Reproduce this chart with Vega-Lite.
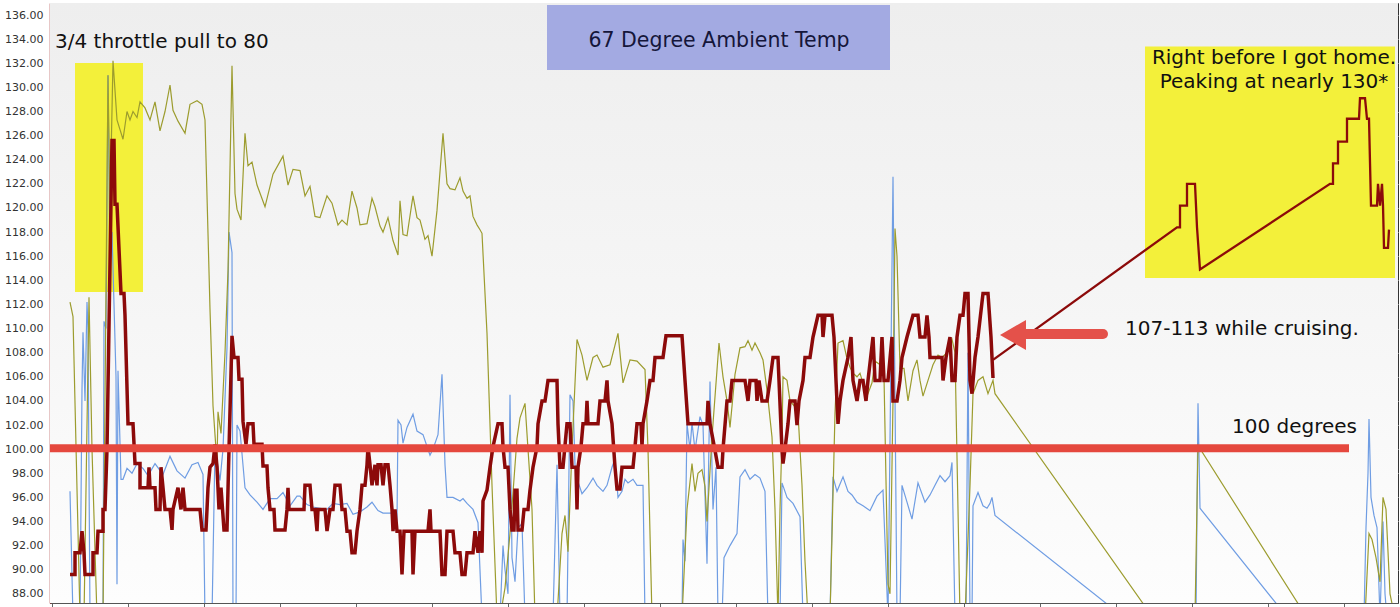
{
  "$schema": "https://vega.github.io/schema/vega-lite/v6.json",
  "width": 1348,
  "height": 600,
  "autosize": {"type": "none"},
  "padding": {"left": 50, "top": 3, "right": 2, "bottom": 4},
  "background": "white",
  "config": {
    "view": {"stroke": "#333333", "strokeWidth": 1},
    "font": "DejaVu Sans"
  },
  "datasets": {
    "red": [{"x":70,"v":89.6},{"x":75,"v":89.6},{"x":75,"v":91.4},{"x":80,"v":91.4},{"x":82,"v":93.2},{"x":84,"v":91.4},{"x":85,"v":89.6},{"x":93,"v":89.6},{"x":93,"v":91.4},{"x":97,"v":91.4},{"x":98,"v":93.2},{"x":103,"v":93.2},{"x":103,"v":95},{"x":105,"v":95},{"x":107,"v":100},{"x":112,"v":125.6},{"x":114,"v":125.6},{"x":115,"v":120.3},{"x":117,"v":120.3},{"x":121,"v":112.9},{"x":124,"v":112.9},{"x":125,"v":111.1},{"x":128,"v":102.1},{"x":133,"v":102.1},{"x":135,"v":98.8},{"x":140,"v":98.8},{"x":140,"v":96.8},{"x":148,"v":96.8},{"x":149,"v":98.5},{"x":150,"v":96.8},{"x":155,"v":96.8},{"x":156,"v":95},{"x":160,"v":95},{"x":161,"v":98.5},{"x":163,"v":96.8},{"x":165,"v":95},{"x":170,"v":95},{"x":172,"v":93.3},{"x":173,"v":95},{"x":178,"v":96.8},{"x":181,"v":95},{"x":183,"v":96.8},{"x":185,"v":95},{"x":200,"v":95},{"x":202,"v":93.3},{"x":206,"v":93.3},{"x":207,"v":95},{"x":208,"v":96.8},{"x":210,"v":98.5},{"x":213,"v":98.8},{"x":215,"v":100.4},{"x":217,"v":98.5},{"x":219,"v":95},{"x":221,"v":96.8},{"x":224,"v":93.3},{"x":227,"v":93.3},{"x":229,"v":100},{"x":232,"v":109.4},{"x":234,"v":107.6},{"x":238,"v":107.6},{"x":239,"v":105.8},{"x":242,"v":105.8},{"x":243,"v":102.3},{"x":246,"v":100.4},{"x":248,"v":102.1},{"x":253,"v":102.1},{"x":254,"v":100.4},{"x":262,"v":100.4},{"x":263,"v":98.6},{"x":267,"v":98.6},{"x":268,"v":96.8},{"x":270,"v":95},{"x":274,"v":95},{"x":275,"v":93.3},{"x":285,"v":93.3},{"x":287,"v":95},{"x":288,"v":96.8},{"x":289,"v":95},{"x":304,"v":95},{"x":305,"v":97},{"x":310,"v":97},{"x":312,"v":95},{"x":315,"v":95},{"x":317,"v":93.2},{"x":318,"v":95},{"x":325,"v":95},{"x":327,"v":93.2},{"x":330,"v":95},{"x":333,"v":95},{"x":335,"v":97},{"x":340,"v":97},{"x":342,"v":95},{"x":345,"v":95},{"x":347,"v":93.2},{"x":350,"v":93.2},{"x":352,"v":91.4},{"x":355,"v":91.4},{"x":357,"v":93.2},{"x":360,"v":95},{"x":362,"v":97},{"x":365,"v":97},{"x":367,"v":98.7},{"x":368,"v":100.2},{"x":370,"v":98.7},{"x":372,"v":97},{"x":375,"v":98.7},{"x":377,"v":97},{"x":378,"v":98.7},{"x":381,"v":98.7},{"x":383,"v":97},{"x":385,"v":98.7},{"x":388,"v":98.7},{"x":390,"v":97},{"x":392,"v":95},{"x":393,"v":93.2},{"x":395,"v":95},{"x":397,"v":93.2},{"x":400,"v":93.2},{"x":402,"v":89.6},{"x":404,"v":93.2},{"x":412,"v":93.2},{"x":413,"v":89.6},{"x":415,"v":93.2},{"x":428,"v":93.2},{"x":430,"v":95},{"x":431,"v":93.2},{"x":440,"v":93.2},{"x":442,"v":89.6},{"x":445,"v":89.6},{"x":447,"v":93.2},{"x":453,"v":93.2},{"x":455,"v":91.4},{"x":460,"v":91.4},{"x":462,"v":89.6},{"x":465,"v":89.6},{"x":467,"v":91.4},{"x":473,"v":91.4},{"x":475,"v":93.2},{"x":478,"v":91.4},{"x":480,"v":93.2},{"x":482,"v":91.4},{"x":483,"v":95.7},{"x":487,"v":96.6},{"x":490,"v":98.5},{"x":493,"v":100.2},{"x":498,"v":102.1},{"x":502,"v":102.1},{"x":503,"v":100.2},{"x":505,"v":98.5},{"x":508,"v":98.5},{"x":510,"v":95},{"x":512,"v":93.3},{"x":514,"v":93.3},{"x":515,"v":96.6},{"x":517,"v":96.6},{"x":518,"v":93.3},{"x":522,"v":93.3},{"x":524,"v":95},{"x":528,"v":95},{"x":530,"v":96.6},{"x":533,"v":98.5},{"x":537,"v":100.2},{"x":538,"v":102.1},{"x":542,"v":104},{"x":545,"v":104},{"x":548,"v":105.7},{"x":557,"v":105.7},{"x":558,"v":102.1},{"x":560,"v":98.5},{"x":563,"v":98.5},{"x":567,"v":102.1},{"x":570,"v":102.1},{"x":572,"v":98.5},{"x":576,"v":98.5},{"x":577,"v":95},{"x":578,"v":98.5},{"x":581,"v":100.2},{"x":583,"v":102.1},{"x":586,"v":102.1},{"x":587,"v":104},{"x":588,"v":102.1},{"x":598,"v":102.1},{"x":600,"v":104},{"x":605,"v":104},{"x":607,"v":105.7},{"x":608,"v":104},{"x":612,"v":102.1},{"x":615,"v":98.5},{"x":617,"v":96.7},{"x":620,"v":96.7},{"x":622,"v":98.5},{"x":633,"v":98.5},{"x":635,"v":100.2},{"x":637,"v":102.1},{"x":641,"v":102.1},{"x":642,"v":100.2},{"x":643,"v":102.1},{"x":647,"v":104},{"x":650,"v":105.7},{"x":653,"v":105.7},{"x":655,"v":107.6},{"x":663,"v":107.6},{"x":666,"v":109.4},{"x":682,"v":109.4},{"x":685,"v":105.7},{"x":688,"v":102.1},{"x":707,"v":102.1},{"x":708,"v":104},{"x":710,"v":102.1},{"x":715,"v":99.9},{"x":718,"v":98.5},{"x":722,"v":98.5},{"x":723,"v":100},{"x":727,"v":104},{"x":730,"v":104},{"x":732,"v":105.7},{"x":745,"v":105.7},{"x":748,"v":104},{"x":750,"v":105.7},{"x":756,"v":105.7},{"x":757,"v":104},{"x":759,"v":105.7},{"x":762,"v":104},{"x":767,"v":104},{"x":770,"v":105.7},{"x":773,"v":107.6},{"x":778,"v":107.6},{"x":779,"v":105.7},{"x":782,"v":99.9},{"x":783,"v":98.8},{"x":785,"v":100},{"x":788,"v":102.1},{"x":790,"v":104},{"x":795,"v":104},{"x":797,"v":102},{"x":799,"v":104},{"x":803,"v":105.7},{"x":805,"v":107.6},{"x":810,"v":107.6},{"x":813,"v":109.3},{"x":818,"v":111.1},{"x":822,"v":111.1},{"x":823,"v":109.3},{"x":825,"v":111.1},{"x":832,"v":111.1},{"x":834,"v":109.3},{"x":838,"v":102.1},{"x":840,"v":104},{"x":843,"v":105.7},{"x":848,"v":107.6},{"x":851,"v":109.3},{"x":853,"v":105.7},{"x":857,"v":104},{"x":860,"v":105.7},{"x":863,"v":105.7},{"x":866,"v":104},{"x":868,"v":105.7},{"x":873,"v":109.3},{"x":875,"v":105.7},{"x":880,"v":105.7},{"x":882,"v":109.3},{"x":884,"v":105.7},{"x":888,"v":105.7},{"x":892,"v":109.3},{"x":893,"v":104},{"x":897,"v":104},{"x":900,"v":105.7},{"x":902,"v":107.6},{"x":907,"v":109.3},{"x":913,"v":111.1},{"x":918,"v":111.1},{"x":920,"v":109.3},{"x":925,"v":109.3},{"x":927,"v":111.1},{"x":929,"v":109.3},{"x":930,"v":107.6},{"x":942,"v":107.6},{"x":943,"v":105.7},{"x":946,"v":107.6},{"x":950,"v":109.3},{"x":952,"v":105.7},{"x":955,"v":105.7},{"x":957,"v":109.3},{"x":960,"v":111.1},{"x":963,"v":111.1},{"x":965,"v":112.9},{"x":968,"v":112.9},{"x":970,"v":105.7},{"x":972,"v":104.6},{"x":975,"v":107.6},{"x":978,"v":109.3},{"x":983,"v":112.9},{"x":988,"v":112.9},{"x":991,"v":109.3},{"x":993,"v":105.9}],
    "inset": [{"x":993,"v":107.4},{"x":1177,"v":118.4},{"x":1180,"v":118.4},{"x":1180,"v":120.2},{"x":1187,"v":120.2},{"x":1187,"v":122},{"x":1195,"v":122},{"x":1197,"v":118.4},{"x":1200,"v":114.9},{"x":1330,"v":122},{"x":1333,"v":122},{"x":1333,"v":123.7},{"x":1338,"v":123.7},{"x":1338,"v":125.5},{"x":1347,"v":125.5},{"x":1347,"v":127.4},{"x":1359,"v":127.4},{"x":1360,"v":129.1},{"x":1365,"v":129.1},{"x":1367,"v":127.4},{"x":1369,"v":127.4},{"x":1371,"v":120.2},{"x":1377,"v":120.2},{"x":1378,"v":122},{"x":1380,"v":120.2},{"x":1382,"v":122},{"x":1383,"v":120.2},{"x":1384,"v":116.7},{"x":1388,"v":116.7},{"x":1389,"v":118.2}],
    "olive": [{"x":70,"v":112.2},{"x":73,"v":111},{"x":80,"v":86},{"x":84,"v":86},{"x":89,"v":112.6},{"x":92,"v":100},{"x":97,"v":86},{"x":103,"v":86},{"x":108,"v":131},{"x":110,"v":120},{"x":113,"v":132.2},{"x":117,"v":127.3},{"x":120,"v":126.5},{"x":123,"v":125.7},{"x":127,"v":128},{"x":130,"v":127.3},{"x":133,"v":128},{"x":137,"v":127.5},{"x":140,"v":128.8},{"x":145,"v":128.3},{"x":150,"v":127.3},{"x":155,"v":128.8},{"x":160,"v":126.4},{"x":165,"v":128},{"x":170,"v":130.2},{"x":173,"v":128.1},{"x":178,"v":127.2},{"x":185,"v":126.2},{"x":190,"v":128.6},{"x":197,"v":128.9},{"x":202,"v":128.6},{"x":205,"v":127.3},{"x":210,"v":111.6},{"x":213,"v":103.6},{"x":217,"v":98.8},{"x":218,"v":103.1},{"x":221,"v":101.3},{"x":225,"v":108},{"x":228,"v":114.8},{"x":232,"v":131.8},{"x":235,"v":121.2},{"x":237,"v":119.9},{"x":241,"v":119},{"x":245,"v":126.2},{"x":248,"v":123.5},{"x":252,"v":123.8},{"x":257,"v":121.9},{"x":265,"v":120.1},{"x":273,"v":122.8},{"x":283,"v":124.3},{"x":288,"v":121.9},{"x":293,"v":123.2},{"x":300,"v":123.1},{"x":305,"v":121},{"x":310,"v":121.8},{"x":315,"v":119.3},{"x":320,"v":119.2},{"x":327,"v":121},{"x":332,"v":120.4},{"x":338,"v":118.6},{"x":342,"v":119},{"x":347,"v":118.6},{"x":352,"v":121.4},{"x":357,"v":120},{"x":360,"v":118.6},{"x":367,"v":118.7},{"x":372,"v":120.8},{"x":375,"v":120.1},{"x":380,"v":118.5},{"x":383,"v":118},{"x":388,"v":119.2},{"x":393,"v":117.3},{"x":398,"v":116.1},{"x":400,"v":120.6},{"x":403,"v":117.8},{"x":407,"v":117.7},{"x":413,"v":121},{"x":417,"v":119.2},{"x":420,"v":119},{"x":425,"v":117.4},{"x":428,"v":117.7},{"x":432,"v":116},{"x":437,"v":119.8},{"x":443,"v":126.2},{"x":447,"v":122},{"x":450,"v":121.6},{"x":455,"v":121.5},{"x":460,"v":122.5},{"x":463,"v":121.4},{"x":467,"v":120.8},{"x":470,"v":121},{"x":473,"v":119.3},{"x":477,"v":118.6},{"x":480,"v":118.2},{"x":482,"v":117.9},{"x":487,"v":109.6},{"x":492,"v":97},{"x":497,"v":86},{"x":500,"v":86},{"x":505,"v":88.5},{"x":510,"v":93},{"x":517,"v":100.9},{"x":520,"v":102.6},{"x":525,"v":103.8},{"x":528,"v":100},{"x":532,"v":95},{"x":535,"v":86},{"x":557,"v":86},{"x":562,"v":93},{"x":565,"v":94.5},{"x":568,"v":91.5},{"x":572,"v":100},{"x":577,"v":109.1},{"x":582,"v":107.8},{"x":587,"v":105.7},{"x":593,"v":107.6},{"x":597,"v":107.8},{"x":603,"v":106.8},{"x":610,"v":107},{"x":618,"v":109.6},{"x":623,"v":105.5},{"x":630,"v":107.4},{"x":637,"v":107.3},{"x":645,"v":106.6},{"x":648,"v":100},{"x":652,"v":86},{"x":682,"v":86},{"x":687,"v":95},{"x":692,"v":98.8},{"x":695,"v":96.5},{"x":698,"v":98},{"x":702,"v":98.3},{"x":705,"v":96.9},{"x":707,"v":94},{"x":712,"v":101},{"x":719,"v":108.8},{"x":723,"v":106},{"x":727,"v":104},{"x":730,"v":101.8},{"x":735,"v":106.2},{"x":740,"v":108.4},{"x":745,"v":108.5},{"x":748,"v":109},{"x":752,"v":108.2},{"x":755,"v":108.8},{"x":760,"v":108},{"x":763,"v":107.4},{"x":767,"v":104.9},{"x":772,"v":101},{"x":775,"v":95},{"x":778,"v":86},{"x":780,"v":95},{"x":782,"v":101},{"x":783,"v":106},{"x":787,"v":105.7},{"x":790,"v":104},{"x":795,"v":103.5},{"x":798,"v":103},{"x":802,"v":97},{"x":805,"v":90.7},{"x":808,"v":86},{"x":830,"v":86},{"x":835,"v":103},{"x":838,"v":108.8},{"x":843,"v":109},{"x":847,"v":107.5},{"x":850,"v":106.8},{"x":853,"v":106.3},{"x":857,"v":106},{"x":860,"v":106.3},{"x":865,"v":104.9},{"x":868,"v":104.6},{"x":872,"v":105.5},{"x":875,"v":107.3},{"x":880,"v":107},{"x":884,"v":106},{"x":888,"v":88.8},{"x":890,"v":88},{"x":893,"v":104},{"x":895,"v":118.3},{"x":897,"v":116},{"x":900,"v":106.7},{"x":904,"v":106.7},{"x":908,"v":104},{"x":913,"v":106.5},{"x":917,"v":107.4},{"x":920,"v":105.7},{"x":923,"v":104.4},{"x":928,"v":105.7},{"x":933,"v":107},{"x":938,"v":107.8},{"x":942,"v":107.6},{"x":947,"v":108},{"x":952,"v":109.1},{"x":955,"v":108},{"x":958,"v":95},{"x":960,"v":86},{"x":965,"v":86},{"x":970,"v":97},{"x":973,"v":104.6},{"x":978,"v":105.7},{"x":983,"v":106},{"x":988,"v":104.6},{"x":993,"v":105.7},{"x":995,"v":104.6},{"x":1143,"v":87.2},{"x":1150,"v":86.4},{"x":1195,"v":86},{"x":1198,"v":100.3},{"x":1298,"v":87.2},{"x":1300,"v":86.5},{"x":1365,"v":86},{"x":1369,"v":93},{"x":1372,"v":92.5},{"x":1376,"v":91},{"x":1380,"v":89},{"x":1383,"v":96},{"x":1386,"v":95},{"x":1390,"v":88},{"x":1395,"v":86}],
    "blue": [{"x":70,"v":96.5},{"x":73,"v":86},{"x":80,"v":86},{"x":82,"v":105},{"x":83,"v":109.7},{"x":85,"v":104},{"x":87,"v":112.2},{"x":88,"v":110},{"x":90,"v":86},{"x":103,"v":86},{"x":104,"v":110.6},{"x":106,"v":110},{"x":108,"v":131},{"x":110,"v":115},{"x":112,"v":118},{"x":114,"v":112},{"x":116,"v":106},{"x":117,"v":88.8},{"x":118,"v":106.5},{"x":121,"v":97.5},{"x":123,"v":97.5},{"x":127,"v":98.4},{"x":132,"v":98},{"x":137,"v":98.8},{"x":143,"v":98.4},{"x":148,"v":97.8},{"x":155,"v":98.8},{"x":163,"v":97.9},{"x":170,"v":99.4},{"x":177,"v":98.2},{"x":185,"v":97.6},{"x":192,"v":98.7},{"x":198,"v":98.9},{"x":203,"v":97.9},{"x":205,"v":86},{"x":212,"v":86},{"x":215,"v":100.2},{"x":220,"v":97.4},{"x":223,"v":100},{"x":227,"v":108.4},{"x":229,"v":118},{"x":232,"v":116.3},{"x":233,"v":86},{"x":236,"v":86},{"x":237,"v":102},{"x":240,"v":101.5},{"x":245,"v":96.8},{"x":250,"v":96.2},{"x":257,"v":95.6},{"x":263,"v":95},{"x":270,"v":95.9},{"x":277,"v":95.9},{"x":283,"v":96.4},{"x":290,"v":95.3},{"x":297,"v":96.1},{"x":300,"v":96.1},{"x":307,"v":95.4},{"x":313,"v":95.2},{"x":320,"v":95.1},{"x":327,"v":95},{"x":333,"v":95.5},{"x":340,"v":95.4},{"x":347,"v":95.5},{"x":353,"v":94.6},{"x":360,"v":94.8},{"x":367,"v":95.2},{"x":372,"v":95.6},{"x":378,"v":94.9},{"x":383,"v":94.7},{"x":393,"v":94.7},{"x":397,"v":94.1},{"x":398,"v":102.4},{"x":401,"v":102},{"x":403,"v":100.5},{"x":407,"v":101.8},{"x":413,"v":102.9},{"x":417,"v":101.5},{"x":423,"v":101.2},{"x":430,"v":99.5},{"x":433,"v":100},{"x":438,"v":101.2},{"x":442,"v":106.2},{"x":445,"v":98.7},{"x":447,"v":96},{"x":453,"v":96},{"x":460,"v":95.7},{"x":463,"v":95.9},{"x":467,"v":95.5},{"x":473,"v":95},{"x":478,"v":93.9},{"x":482,"v":86},{"x":500,"v":86},{"x":503,"v":92},{"x":505,"v":90},{"x":508,"v":88},{"x":510,"v":104.5},{"x":512,"v":91},{"x":515,"v":89},{"x":518,"v":93.5},{"x":522,"v":93.8},{"x":525,"v":86},{"x":553,"v":86},{"x":557,"v":98.7},{"x":560,"v":86},{"x":567,"v":86},{"x":570,"v":104.5},{"x":573,"v":104},{"x":575,"v":98.7},{"x":578,"v":97.3},{"x":582,"v":96.3},{"x":587,"v":96.8},{"x":593,"v":97.6},{"x":597,"v":97},{"x":603,"v":96.5},{"x":607,"v":97},{"x":612,"v":98.5},{"x":615,"v":99.2},{"x":618,"v":96},{"x":622,"v":96.5},{"x":625,"v":97.5},{"x":628,"v":97.2},{"x":633,"v":97.5},{"x":637,"v":97},{"x":643,"v":97},{"x":645,"v":86},{"x":682,"v":86},{"x":683,"v":92.5},{"x":685,"v":90.7},{"x":687,"v":102.1},{"x":690,"v":100},{"x":692,"v":102.2},{"x":695,"v":99.9},{"x":700,"v":102.7},{"x":703,"v":102},{"x":707,"v":90.5},{"x":710,"v":105.6},{"x":713,"v":95},{"x":716,"v":98.5},{"x":718,"v":86},{"x":722,"v":86},{"x":724,"v":91},{"x":730,"v":92},{"x":737,"v":93},{"x":740,"v":97.7},{"x":745,"v":98.3},{"x":750,"v":97.5},{"x":755,"v":97.9},{"x":760,"v":97.6},{"x":765,"v":96.5},{"x":768,"v":86},{"x":780,"v":86},{"x":782,"v":97.2},{"x":787,"v":96},{"x":793,"v":95.5},{"x":800,"v":94.4},{"x":803,"v":86},{"x":830,"v":86},{"x":833,"v":97.7},{"x":837,"v":96.5},{"x":843,"v":97.7},{"x":848,"v":96.5},{"x":852,"v":96.2},{"x":857,"v":95.6},{"x":863,"v":95.3},{"x":870,"v":94.9},{"x":877,"v":96.1},{"x":883,"v":96.6},{"x":888,"v":86},{"x":893,"v":122.6},{"x":897,"v":86},{"x":900,"v":86},{"x":902,"v":97},{"x":907,"v":95.6},{"x":912,"v":94.2},{"x":918,"v":97.2},{"x":925,"v":95.6},{"x":930,"v":96.2},{"x":935,"v":97},{"x":940,"v":97.8},{"x":945,"v":97.3},{"x":950,"v":97.8},{"x":952,"v":98.9},{"x":955,"v":86},{"x":966,"v":86},{"x":968,"v":108},{"x":970,"v":86},{"x":972,"v":86},{"x":973,"v":95.3},{"x":978,"v":96.4},{"x":983,"v":95.3},{"x":987,"v":95.1},{"x":990,"v":95.5},{"x":992,"v":96},{"x":995,"v":94.5},{"x":1117,"v":86.5},{"x":1120,"v":86},{"x":1196,"v":86},{"x":1198,"v":103.8},{"x":1200,"v":95.1},{"x":1283,"v":86.5},{"x":1285,"v":86},{"x":1364,"v":86},{"x":1366,"v":93.5},{"x":1368,"v":98},{"x":1369,"v":102.5},{"x":1371,"v":96},{"x":1374,"v":94.5},{"x":1377,"v":93.5},{"x":1380,"v":86},{"x":1383,"v":94},{"x":1385,"v":88},{"x":1387,"v":86},{"x":1395,"v":86}]
  },
  "encoding": {
    "x": {"field": "x", "type": "quantitative", "scale": {"domain": [50, 1398], "nice": false, "zero": false},
      "axis": {"title": null, "labels": false, "values": [52,128,204,280,356,432,508,584,660,736,812,888,964,1040,1116,1192,1268,1344], "tickSize": 5, "tickColor": "#666", "domainColor": "#555",
        "grid": true, "gridColor": "#dcdcdc", "gridWidth": 1, "gridOpacity": {"condition": {"test": "(datum.value - 128) % 152 == 0", "value": 1}, "value": 0}}},
    "y": {"field": "v", "type": "quantitative", "scale": {"domain": [87.24, 137], "nice": false, "zero": false},
      "axis": {"title": null, "values": [88,90,92,94,96,98,100,102,104,106,108,110,112,114,116,118,120,122,124,126,128,130,132,134,136], "format": ".2f", "labelFontSize": 11, "labelColor": "#333", "labelFont": "DejaVu Sans", "ticks": false, "labelPadding": 7, "domainColor": "#a02020", "domainWidth": 1.5, "grid": true, "gridColor": "#d2d2d2", "gridDash": [3, 2]}}
  },
  "layer": [
    {
      "mark": {"type": "rect", "color": {"gradient": "linear", "x1": 0, "y1": 0, "x2": 0, "y2": 1, "stops": [{"offset": 0, "color": "#eeeeee"}, {"offset": 1, "color": "#fdfdfd"}]}},
      "data": {"values": [{"x": 50, "x2": 1398, "v": 137, "v2": 87.24}]},
      "encoding": {"x2": {"field": "x2"}, "y2": {"field": "v2"}}
    },
    {
      "mark": {"type": "rect", "color": "#f3f03a"},
      "data": {"values": [{"x": 75, "x2": 143, "v": 132.02, "v2": 113.03}, {"x": 1145, "x2": 1395, "v": 133.39, "v2": 114.2}]},
      "encoding": {"x2": {"field": "x2"}, "y2": {"field": "v2"}}
    },
    {
      "mark": {"type": "rect", "color": "#a3aae2"},
      "data": {"values": [{"x": 547, "x2": 890, "v": 136.83, "v2": 131.44}]},
      "encoding": {"x2": {"field": "x2"}, "y2": {"field": "v2"}}
    },
    {
      "data": {"name": "blue"},
      "mark": {"type": "line", "color": "#6f9de3", "strokeWidth": 1.2, "clip": true},
      "encoding": {"order": {"value": null}}
    },
    {
      "data": {"name": "olive"},
      "mark": {"type": "line", "color": "#9c9c2e", "strokeWidth": 1.2, "clip": true},
      "encoding": {"order": {"value": null}}
    },
    {
      "data": {"name": "red"},
      "mark": {"type": "line", "color": "#8c0a0a", "strokeWidth": 3.5, "clip": true},
      "encoding": {"order": {"value": null}}
    },
    {
      "data": {"name": "inset"},
      "mark": {"type": "line", "color": "#8c0a0a", "strokeWidth": 2.3, "clip": true},
      "encoding": {"order": {"value": null}}
    },
    {
      "data": {"values": [{"x": 50, "x2": 1349, "v": 100.07}]},
      "mark": {"type": "rule", "color": "#e5483e", "strokeWidth": 8},
      "encoding": {"x2": {"field": "x2"}}
    },
    {
      "data": {"values": [{"x": 1025, "x2": 1103, "v": 109.55}]},
      "mark": {"type": "rule", "color": "#e4514a", "strokeWidth": 10, "strokeCap": "round"},
      "encoding": {"x2": {"field": "x2"}}
    },
    {
      "data": {"values": [{"x": 1013, "v": 109.47}]},
      "mark": {"type": "point", "shape": "triangle-left", "filled": true, "color": "#e4514a", "opacity": 1, "size": 900},
      "encoding": {}
    },
    {
      "data": {"values": [{"x": 55, "v": 133.76, "t": "3/4 throttle pull to 80"}, {"x": 1125, "v": 109.96, "t": "107-113 while cruising."}, {"x": 1232, "v": 101.84, "t": "100 degrees"}]},
      "mark": {"type": "text", "align": "left", "baseline": "middle", "fontSize": 20, "font": "DejaVu Sans", "color": "#111111"},
      "encoding": {"text": {"field": "t"}}
    },
    {
      "data": {"values": [{"x": 719, "v": 133.85, "t": "67 Degree Ambient Temp"}]},
      "mark": {"type": "text", "align": "center", "baseline": "middle", "fontSize": 20.5, "font": "DejaVu Sans", "color": "#15163a"},
      "encoding": {"text": {"field": "t"}}
    },
    {
      "data": {"values": [{"x": 1274, "v": 132.43, "t": "Right before I got home."}, {"x": 1274, "v": 130.44, "t": "Peaking at nearly 130*"}]},
      "mark": {"type": "text", "align": "center", "baseline": "middle", "fontSize": 20, "font": "DejaVu Sans", "color": "#111111"},
      "encoding": {"text": {"field": "t"}}
    }
  ]
}
